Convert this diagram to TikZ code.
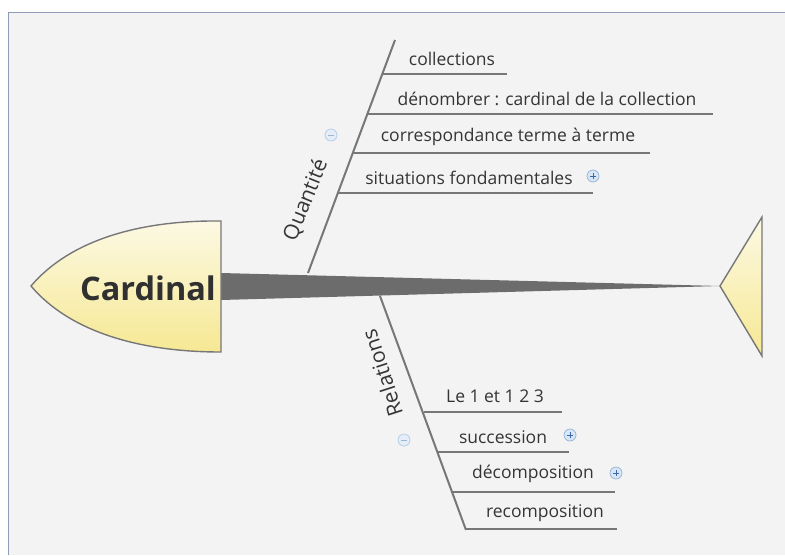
\documentclass[tikz,border=0pt]{standalone}
\usepackage{fontspec}
\setmainfont{Open Sans}
\usetikzlibrary{calc}

\definecolor{panelgrey}{HTML}{F3F3F3}
\definecolor{panelline}{HTML}{8C9BB8}
\definecolor{bonegrey}{HTML}{777777}
\definecolor{spinegrey}{HTML}{6C6C6C}
\definecolor{inkgrey}{HTML}{353535}
\definecolor{headtop}{HTML}{FCF9E4}
\definecolor{headbot}{HTML}{F6E893}
\definecolor{iconline}{HTML}{93B2D8}
\definecolor{iconfill}{HTML}{D8E5F5}
\definecolor{iconmark}{HTML}{3B68A8}

\begin{document}
\begin{tikzpicture}[x=1pt, y=-1pt,
  bone/.style={draw=bonegrey, line width=2pt},
  twig/.style={draw=bonegrey, line width=2pt},
  outline/.style={draw=bonegrey, line width=1.4pt, top color=headtop, bottom color=headbot},
  item/.style={font=\fontsize{17.5}{20}\selectfont, text=inkgrey, inner sep=1pt},
  branch/.style={font=\fontsize{21}{24}\selectfont, text=inkgrey, inner sep=1pt},
  collapse/.style={circle, draw=iconline!70, fill=iconfill!70, line width=0.7pt,
                   minimum size=12pt, inner sep=0pt,
                   path picture={\draw[iconmark!50, line width=1pt]
                     ([xshift=-3pt]path picture bounding box.center) --
                     ([xshift=3pt]path picture bounding box.center);}},
  expand/.style={circle, draw=iconline, fill=iconfill, line width=0.7pt,
                 minimum size=12pt, inner sep=0pt,
                 path picture={\draw[iconmark, line width=1pt]
                     ([xshift=-3pt]path picture bounding box.center) --
                     ([xshift=3pt]path picture bounding box.center)
                     ([yshift=-3pt]path picture bounding box.center) --
                     ([yshift=3pt]path picture bounding box.center);}}]

  %% Frame
  \useasboundingbox (0,0) rectangle (785,555);
  \fill[white] (0,0) rectangle (785,555);
  \fill[panelgrey] (8,12) rectangle (785,555);
  \draw[panelline, line width=1pt] (8,555) -- (8,12) -- (785,12);

  %% Spine
  \coordinate (neck) at (221,286);
  \coordinate (tail) at (720,286);
  \fill[spinegrey] ($(neck)+(0,-13)$) -- (tail) -- ($(neck)+(0,14)$) -- cycle;

  %% Head and tail
  \path[outline] (221,221) .. controls (140,220) and (70,240) .. (31,286)
    .. controls (70,332) and (140,352) .. (221,352) -- cycle;
  \node[font=\fontsize{32.5}{36}\selectfont\bfseries, text=inkgrey!90!black]
    (cardinal) at (148,288) {Cardinal};
  \path[outline] (tail) -- (762,217) -- (762,356) -- cycle;

  %% Upper bone
  \coordinate (q0) at (308,273);
  \coordinate (q1) at (395,40);
  \draw[bone] (q0) -- (q1);
  \node[branch, rotate=68] (quantite) at (306,200) {Quantité};
  \node[collapse] (qminus) at (331,135) {};

  \coordinate (qa) at (382,74);  \coordinate (qa') at (507,74);
  \coordinate (qb) at (367,114); \coordinate (qb') at (713,114);
  \coordinate (qc) at (353,153); \coordinate (qc') at (650,153);
  \coordinate (qd) at (338,193); \coordinate (qd') at (593,193);
  \draw[twig] (qa) -- (qa');
  \draw[twig] (qb) -- (qb');
  \draw[twig] (qc) -- (qc');
  \draw[twig] (qd) -- (qd');
  \node[item] (collections) at (452,59) {collections};
  \node[item] (denombrer) at (547,99) {dénombrer : cardinal de la collection};
  \node[item] (correspondance) at (508,137) {correspondance terme à terme};
  \node[item] (situations) at (469,178) {situations fondamentales};
  \node[expand] (splus) at (593,176) {};

  %% Lower bone
  \coordinate (r0) at (380,296);
  \coordinate (r1) at (466,530);
  \draw[bone] (r0) -- (r1);
  \node[branch, rotate=108] (relations) at (382,373) {Relations};
  \node[collapse] (rminus) at (404,440) {};

  \coordinate (ra) at (424,412); \coordinate (ra') at (562,412);
  \coordinate (rb) at (438,452); \coordinate (rb') at (569,452);
  \coordinate (rc) at (453,492); \coordinate (rc') at (615,492);
  \coordinate (rd) at (466,529); \coordinate (rd') at (617,529);
  \draw[twig] (ra) -- (ra');
  \draw[twig] (rb) -- (rb');
  \draw[twig] (rc) -- (rc');
  \draw[twig] (rd) -- (rd');
  \node[item] (unetroi) at (495,396) {Le 1 et 1 2 3};
  \node[item] (succession) at (503,437) {succession};
  \node[item] (decomposition) at (533,474) {décomposition};
  \node[item] (recomposition) at (545,513) {recomposition};
  \node[expand] (bplus) at (570,435) {};
  \node[expand] (cplus) at (616,473) {};

\end{tikzpicture}
\end{document}
